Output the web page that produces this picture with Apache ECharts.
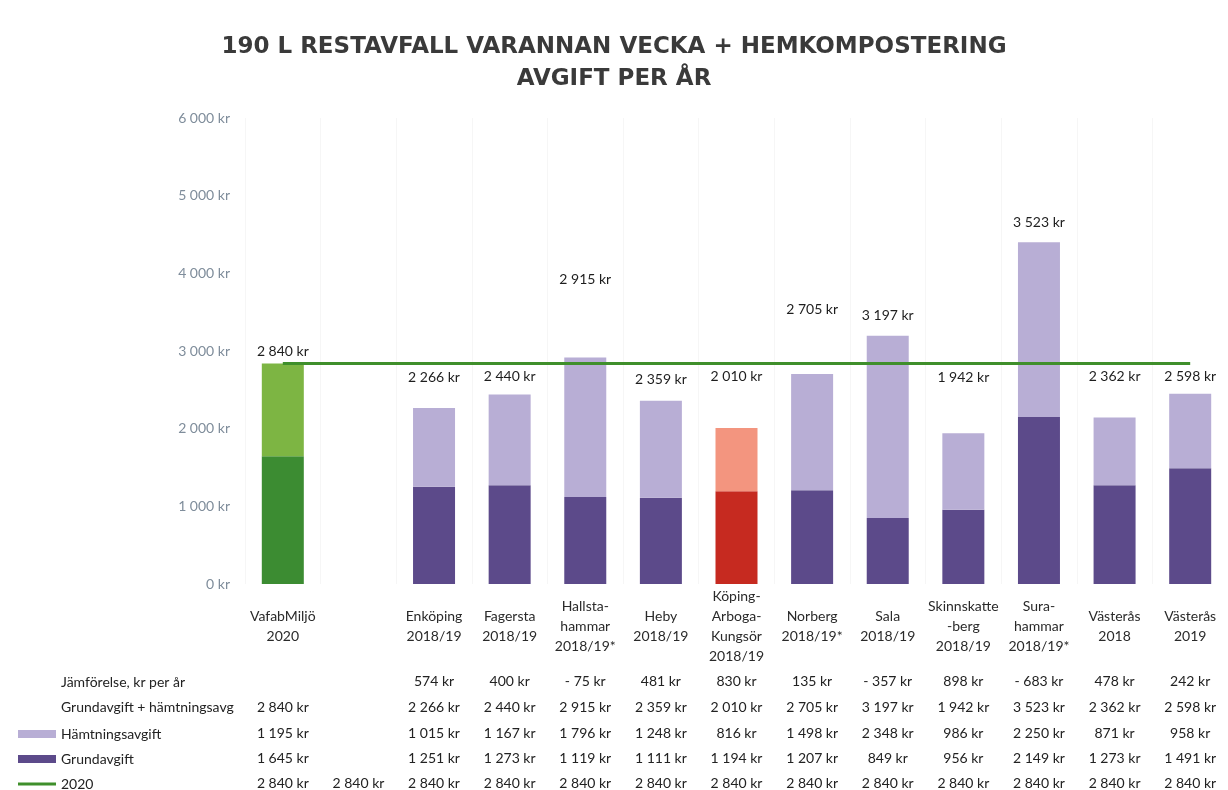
<!DOCTYPE html>
<html>
<head>
<meta charset="utf-8">
<script src="https://cdn.jsdelivr.net/npm/echarts@6/dist/echarts.min.js"></script>
<style>
  html, body { margin: 0; padding: 0; background: #fff; }
  #chart { width: 1228px; height: 790px; }
</style>
</head>
<body>
<div id="chart"></div>
<script>
// kategorier (x-axel)
const categories = [
  "VafabMiljö\n2020", "", "Enköping\n2018/19", "Fagersta\n2018/19",
  "Hallsta-\nhammar\n2018/19*", "Heby\n2018/19", "Köping-\nArboga-\nKungsör\n2018/19",
  "Norberg\n2018/19*", "Sala\n2018/19", "Skinnskatte\n-berg\n2018/19",
  "Sura-\nhammar\n2018/19*", "Västerås\n2018", "Västerås\n2019"
];
// tabellrader
const jamforelse = [null, null, 574, 400, -75, 481, 830, 135, -357, 898, -683, 478, 242];
const grundPlusHamtning = [2840, null, 2266, 2440, 2915, 2359, 2010, 2705, 3197, 1942, 3523, 2362, 2598];
const hamtningsavgift = [1195, null, 1015, 1167, 1796, 1248, 816, 1498, 2348, 986, 2250, 871, 958];
const grundavgift = [1645, null, 1251, 1273, 1119, 1111, 1194, 1207, 849, 956, 2149, 1273, 1491];
const ref2020 = [2840, 2840, 2840, 2840, 2840, 2840, 2840, 2840, 2840, 2840, 2840, 2840, 2840];
const yTicks = [0, 1000, 2000, 3000, 4000, 5000, 6000];

// layout: extra lift (px) for the total labels, as placed in the original
const labelLift = [0, 0, 19, 6, 66, 9, 39, 52, 8, 44, 8, 29, 5];

const FONT = "Lato";

function kr(n) {
  if (n === null || n === undefined) return "";
  const s = Math.abs(n).toString().replace(/\B(?=(\d{3})+(?!\d))/g, " ") + " kr";
  return n < 0 ? "- " + s : s;
}

// färger per stapel
function grundColor(i) {
  if (i === 0) return "#3c8c32";
  if (i === 6) return "#c62a20";
  return "#5c4a8a";
}
function hamtColor(i) {
  if (i === 0) return "#7db543";
  if (i === 6) return "#f3957f";
  return "#b8aed5";
}

const dom = echarts.init(document.getElementById("chart"));

// table rows drawn as extra category axes below the plot
const tableRows = [jamforelse, grundPlusHamtning, hamtningsavgift, grundavgift, ref2020];
const rowOffsets = [97, 123, 149, 174, 199];

const tableAxes = tableRows.map((row, k) => ({
  type: "category",
  position: "bottom",
  offset: rowOffsets[k],
  data: row.map(kr),
  axisLine: { show: false },
  axisTick: { show: false },
  splitLine: { show: false },
  axisLabel: {
    interval: 0,
    margin: 0,
    verticalAlign: "middle",
    fontFamily: FONT,
    fontSize: 14,
    color: "#222"
  }
}));

// one legend per table row so they line up with the rows
function rowLegend(name, top, h) {
  return {
    data: [name],
    left: 18,
    top: top,
    padding: 0,
    itemWidth: 38,
    itemHeight: h,
    icon: "rect",
    selectedMode: false,
    textStyle: { fontFamily: FONT, fontSize: 14, color: "#222", lineHeight: 14 }
  };
}

const option = {
  backgroundColor: "#fff",
  animation: false,
  title: {
    text: "190 L RESTAVFALL VARANNAN VECKA + HEMKOMPOSTERING\nAVGIFT PER ÅR",
    left: "center",
    top: 26,
    textStyle: {
      fontFamily: "DejaVu Sans",
      fontWeight: "bold",
      fontSize: 23,
      lineHeight: 32,
      color: "#3a3a3a"
    }
  },
  grid: { left: 245, right: 0, top: 118, bottom: 204, containLabel: false },
  legend: [
    rowLegend("Hämtningsavgift", 727, 8),
    rowLegend("Grundavgift", 752, 8),
    rowLegend("2020", 777, 3)
  ],
  graphic: [
    { type: "text", left: 61, top: 675, style: { text: "Jämförelse, kr per år", font: "14px " + FONT, fill: "#222" } },
    { type: "text", left: 61, top: 700, style: { text: "Grundavgift + hämtningsavg", font: "14px " + FONT, fill: "#222" } }
  ],
  xAxis: [
    {
      type: "category",
      data: categories,
      axisLine: { show: false },
      axisTick: { show: false },
      splitLine: { show: true, lineStyle: { color: "#f6f6f6", width: 1 } },
      axisLabel: {
        interval: 0,
        margin: 42,
        verticalAlign: "middle",
        lineHeight: 20,
        fontFamily: FONT,
        fontSize: 14,
        color: "#2a2a2a"
      }
    }
  ].concat(tableAxes),
  yAxis: {
    type: "value",
    min: yTicks[0],
    max: yTicks[yTicks.length - 1],
    interval: 1000,
    axisLine: { show: false },
    axisTick: { show: false },
    splitLine: { show: false },
    axisLabel: {
      margin: 15,
      fontFamily: FONT,
      fontSize: 14,
      color: "#7f8d9b",
      formatter: v => kr(v)
    }
  },
  series: [
    {
      name: "Grundavgift",
      type: "bar",
      stack: "avgift",
      barWidth: 42,
      itemStyle: { color: "#5c4a8a" },
      data: grundavgift.map((v, i) => ({ value: v, itemStyle: { color: grundColor(i) } }))
    },
    {
      name: "Hämtningsavgift",
      type: "bar",
      stack: "avgift",
      barWidth: 42,
      itemStyle: { color: "#b8aed5" },
      data: hamtningsavgift.map((v, i) => ({
        value: v,
        itemStyle: { color: hamtColor(i) },
        label: { offset: [0, -labelLift[i]] }
      })),
      label: {
        show: true,
        position: "top",
        distance: 5,
        fontFamily: FONT,
        fontSize: 14,
        color: "#1e1e1e",
        formatter: p => kr(grundPlusHamtning[p.dataIndex])
      }
    },
    {
      name: "2020",
      type: "line",
      data: ref2020,
      symbol: "none",
      z: 5,
      lineStyle: { color: "#3f8f2b", width: 3 },
      itemStyle: { color: "#3f8f2b" }
    }
  ]
};

dom.setOption(option);
</script>
</body>
</html>
